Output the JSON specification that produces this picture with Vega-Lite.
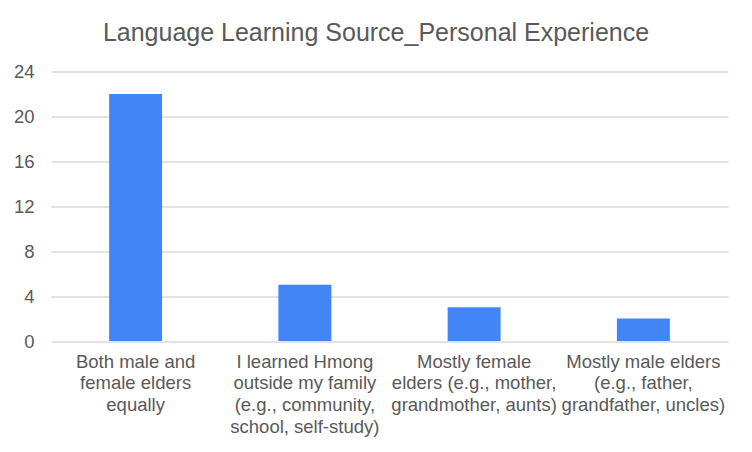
{
  "$schema": "https://vega.github.io/schema/vega-lite/v6.json",
  "width": 677,
  "height": 269.5,
  "autosize": {"type": "none"},
  "padding": {"left": 51, "top": 71.5, "right": 24, "bottom": 111},
  "background": "white",
  "title": {
    "text": "Language Learning Source_Personal Experience",
    "font": "Liberation Sans",
    "fontSize": 25,
    "fontWeight": "normal",
    "color": "#595959",
    "anchor": "middle",
    "frame": "group",
    "dx": -13.5,
    "offset": 17
  },
  "data": {
    "values": [
      {"source": "Both male and female elders equally", "count": 22},
      {"source": "I learned Hmong outside my family (e.g., community, school, self-study)", "count": 5},
      {"source": "Mostly female elders (e.g., mother, grandmother, aunts)", "count": 3},
      {"source": "Mostly male elders (e.g., father, grandfather, uncles)", "count": 2}
    ]
  },
  "mark": {"type": "bar", "color": "#4285F4"},
  "encoding": {
    "x": {
      "field": "source",
      "type": "nominal",
      "sort": null,
      "title": null,
      "scale": {"paddingInner": 0.687, "paddingOuter": 0.3435},
      "axis": {
        "labelAngle": 0,
        "ticks": false,
        "domain": false,
        "labelFont": "Liberation Sans",
        "labelFontSize": 18.5,
        "labelColor": "#595959",
        "labelPadding": 11,
        "labelLineHeight": 21.7,
        "labelBaseline": "top",
        "labelLimit": 0,
        "labelExpr": "datum.value == 'Both male and female elders equally' ? ['Both male and', 'female elders', 'equally'] : datum.value == 'I learned Hmong outside my family (e.g., community, school, self-study)' ? ['I learned Hmong', 'outside my family', '(e.g., community,', 'school, self-study)'] : datum.value == 'Mostly female elders (e.g., mother, grandmother, aunts)' ? ['Mostly female', 'elders (e.g., mother,', 'grandmother, aunts)'] : ['Mostly male elders', '(e.g., father,', 'grandfather, uncles)']"
      }
    },
    "y": {
      "field": "count",
      "type": "quantitative",
      "title": null,
      "scale": {"domain": [0, 24], "nice": false},
      "axis": {
        "values": [0, 4, 8, 12, 16, 20, 24],
        "ticks": false,
        "domain": false,
        "grid": true,
        "gridColor": "#d9d9d9",
        "gridWidth": 1.5,
        "labelFont": "Liberation Sans",
        "labelFontSize": 18.5,
        "labelColor": "#595959",
        "labelPadding": 17
      }
    }
  },
  "config": {"view": {"stroke": null}}
}
